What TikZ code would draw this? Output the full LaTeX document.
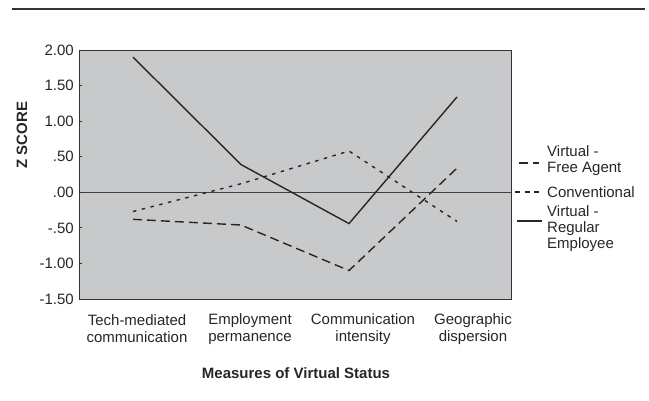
\documentclass[tikz,border=0pt]{standalone}
\usepackage{fontspec}
\setmainfont{Liberation Sans}
\begin{document}
\begin{tikzpicture}[x=1pt,y=1pt,
  lbl/.style={font=\fontsize{15}{17}\selectfont, text=black!85, inner sep=0pt},
  bold/.style={font=\fontsize{15}{17}\selectfont\bfseries, text=black!85, inner sep=0pt},
  dataline/.style={line width=1.4pt, draw=black!85},
  faline/.style={dataline, dash pattern=on 9pt off 5pt},
  cvline/.style={dataline, dash pattern=on 3.5pt off 5.5pt},
  reline/.style={dataline}]
\useasboundingbox (0,0) rectangle (649,-400);
% top rule
\coordinate (r1) at (12,-9);
\coordinate (r2) at (645,-9);
\draw[line width=1.6pt, black!80] (r1) -- (r2);
% plot area
\coordinate (pbl) at (79,-299);
\coordinate (ptr) at (511,-50);
\fill[fill={rgb,255:red,200;green,201;blue,203}] (pbl) rectangle (ptr);
\begin{scope}[shift={(0,-192.29)}, y=71.143pt]
  % zero line
  \coordinate (z1) at (79,0);
  \coordinate (z2) at (511,0);
  \draw[line width=0.9pt, black!75] (z1) -- (z2);
  % ticks and labels
  \foreach \v/\t in {2/2.00,1.5/1.50,1/1.00,0.5/.50,0/.00,-0.5/-.50,-1/-1.00,-1.5/-1.50}{
    \draw[line width=0.8pt, black!80] (79,\v) -- ++(3,0);
    \node[lbl, anchor=east] (yl\v) at (74,\v) {\t};
  }
  % data points
  \coordinate (re1) at (133,1.90);
  \coordinate (re2) at (241,0.39);
  \coordinate (re3) at (349,-0.44);
  \coordinate (re4) at (457,1.34);
  \coordinate (cv1) at (133,-0.27);
  \coordinate (cv2) at (241,0.12);
  \coordinate (cv3) at (349,0.58);
  \coordinate (cv4) at (457,-0.41);
  \coordinate (fa1) at (133,-0.38);
  \coordinate (fa2) at (241,-0.46);
  \coordinate (fa3) at (349,-1.10);
  \coordinate (fa4) at (457,0.34);
  \draw[reline] (re1) -- (re2) -- (re3) -- (re4);
  \draw[cvline] (cv1) -- (cv2) -- (cv3) -- (cv4);
  \draw[faline] (fa1) -- (fa2) -- (fa3) -- (fa4);
\end{scope}
\draw[line width=0.9pt, black!80] (pbl) rectangle (ptr);
% axis titles
\node[bold, rotate=90] (ztitle) at (22,-135) {Z SCORE};
\node[bold] (xtitle) at (296,-373) {Measures of Virtual Status};
% category labels
\node[lbl, align=center] (c1) at (137,-329) {Tech-mediated\\communication};
\node[lbl, align=center] (c2) at (250,-329) {Employment\\permanence};
\node[lbl, align=center] (c3) at (363,-329) {Communication\\intensity};
\node[lbl, align=center] (c4) at (473,-329) {Geographic\\dispersion};
% legend
\coordinate (lfa1) at (519,-163);
\coordinate (lfa2) at (539,-163);
\coordinate (lcv1) at (515,-192);
\coordinate (lcv2) at (543,-192);
\coordinate (lre1) at (517,-221);
\coordinate (lre2) at (542,-221);
\draw[faline] (lfa1) -- (lfa2);
\draw[dataline, dash pattern=on 5pt off 4.5pt] (lcv1) -- (lcv2);
\draw[reline] (lre1) -- (lre2);
\node[lbl, align=left, anchor=west, font=\fontsize{15}{15.5}\selectfont] (tfa) at (547,-160.5) {Virtual -\\Free Agent};
\node[lbl, anchor=west] (tcv) at (547,-192) {Conventional};
\node[lbl, align=left, anchor=west, font=\fontsize{15}{16}\selectfont] (tre) at (547,-229) {Virtual -\\Regular\\Employee};
\end{tikzpicture}
\end{document}
